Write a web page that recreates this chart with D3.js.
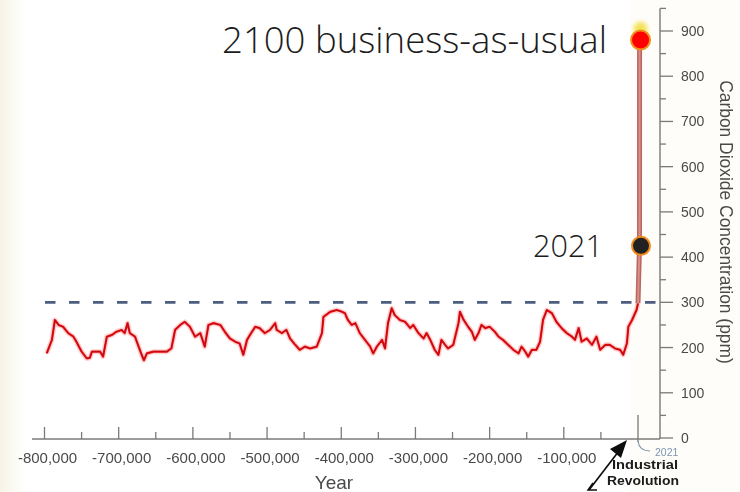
<!DOCTYPE html>
<html>
<head>
<meta charset="utf-8">
<script src="https://cdn.jsdelivr.net/npm/d3@7"></script>
<style>
  html, body { margin: 0; padding: 0; background: #ffffff; }
  svg { display: block; }
</style>
</head>
<body>
<script>
// ---- Data ----
const years = [-797000,-790000,-786000,-781000,-775000,-768000,-761000,-757000,-750000,-743000,
  -739000,-736000,-732000,-725000,-721000,-716000,-709000,-703000,-696000,-692000,
  -688000,-685000,-678000,-674000,-669000,-666000,-662000,-653000,-644000,-635000,
  -629000,-624000,-617000,-611000,-604000,-597000,-590000,-584000,-579000,-572000,
  -563000,-557000,-550000,-543000,-537000,-532000,-527000,-523000,-516000,-510000,
  -503000,-496000,-489000,-487000,-480000,-474000,-469000,-462000,-456000,-449000,
  -442000,-433000,-426000,-424000,-415000,-406000,-399000,-395000,-393000,-391000,
  -386000,-381000,-375000,-368000,-361000,-357000,-352000,-345000,-341000,-337000,
  -332000,-328000,-321000,-314000,-307000,-303000,-296000,-289000,-285000,-280000,
  -274000,-269000,-265000,-260000,-256000,-249000,-242000,-240000,-235000,-229000,
  -224000,-220000,-215000,-211000,-206000,-200000,-193000,-188000,-182000,-175000,
  -168000,-161000,-157000,-152000,-148000,-143000,-137000,-132000,-128000,-123000,
  -116000,-110000,-103000,-96000,-89000,-85000,-80000,-76000,-69000,-62000,
  -56000,-51000,-44000,-38000,-31000,-24000,-20000,-15000,-13000,-8000,
  -4000,-2000,0];
const co2 = [187,217,261,250,246,232,224,213,191,176,
  177,191,191,191,180,224,228,235,239,232,
  254,232,224,206,184,172,187,191,191,191,
  198,239,250,257,246,224,232,202,250,254,
  250,235,220,213,209,184,217,228,246,243,
  232,239,254,239,232,239,220,206,195,202,
  198,202,232,268,279,283,279,276,268,261,
  250,254,232,217,202,187,202,217,198,254,
  287,272,261,257,243,250,232,220,232,217,
  195,184,217,206,198,206,254,279,261,246,
  235,217,232,250,243,246,235,224,217,206,
  195,187,202,191,180,195,195,213,261,283,
  276,257,243,232,224,217,243,213,220,206,
  224,195,206,206,198,195,184,209,246,261,
  276,283,298];

const modernYears = [0, 2021, 2100];
const modernCo2 = [298, 425, 880];

const xTickValues = [-800000,-700000,-600000,-500000,-400000,-300000,-200000,-100000];
const xTickLabels = ["-800,000","-700,000","-600,000","-500,000","-400,000","-300,000","-200,000","-100,000"];
const yTickValues = [0,100,200,300,400,500,600,700,800,900];
const baselinePpm = 300;
const pointLabels = ["2021", "2100 business-as-usual"];

// ---- Layout ----
const W = 740, H = 492;
const svg = d3.select("body").append("svg").attr("width", W).attr("height", H);

const x = d3.scaleLinear().domain([-800000, 0]).range([44.5, 638]);
const y = d3.scaleLinear().domain([0, 900]).range([438, 31]);
const axisY = 439;
const axisX = 660;

// background tints (scanned figure look)
const defs = svg.append("defs");
const lg = defs.append("linearGradient").attr("id","leftTint").attr("x1",0).attr("x2",1);
lg.append("stop").attr("offset","0%").attr("stop-color","#f7f3e6");
lg.append("stop").attr("offset","100%").attr("stop-color","#ffffff");
svg.append("rect").attr("x",0).attr("y",0).attr("width",26).attr("height",H).attr("fill","url(#leftTint)");
svg.append("rect").attr("x",630).attr("y",0).attr("width",110).attr("height",H).attr("fill","#fefdf9");

const blur = defs.append("filter").attr("id","soft").attr("filterUnits","userSpaceOnUse")
  .attr("x",0).attr("y",0).attr("width",W).attr("height",H);
blur.append("feGaussianBlur").attr("stdDeviation",0.6);
const glow = defs.append("filter").attr("id","glow").attr("x","-100%").attr("y","-100%").attr("width","300%").attr("height","300%");
glow.append("feGaussianBlur").attr("stdDeviation",2.2);

const axisColor = "#7a7a7a";
const labelColor = "#4a4a4a";

// ---- X axis ----
const gx = svg.append("g").attr("filter","url(#soft)");
gx.append("line").attr("x1", 32).attr("x2", axisX).attr("y1", axisY).attr("y2", axisY)
  .attr("stroke", axisColor).attr("stroke-width", 1.4);
const minorX = d3.range(-750000, 0, 100000);
gx.selectAll("line.maj").data(xTickValues).join("line").attr("class","maj")
  .attr("x1", d => x(d)).attr("x2", d => x(d)).attr("y1", axisY).attr("y2", axisY - 12)
  .attr("stroke", axisColor).attr("stroke-width", 1.3);
gx.selectAll("line.min").data(minorX).join("line").attr("class","min")
  .attr("x1", d => x(d)).attr("x2", d => x(d)).attr("y1", axisY).attr("y2", axisY - 7)
  .attr("stroke", axisColor).attr("stroke-width", 1.3);
// present-day tick
gx.append("line").attr("x1", x(0)).attr("x2", x(0)).attr("y1", axisY + 3).attr("y2", axisY - 24)
  .attr("stroke", axisColor).attr("stroke-width", 1.3);
gx.selectAll("text.xt").data(xTickValues).join("text").attr("class","xt")
  .attr("x", d => x(d) + 3).attr("y", 463)
  .attr("text-anchor","middle").attr("font-family","'Liberation Sans', Arial, sans-serif")
  .attr("font-size", 15).attr("fill", labelColor)
  .text((d,i) => xTickLabels[i]);
gx.append("text").attr("x", 334).attr("y", 489).attr("text-anchor","middle")
  .attr("font-family","'Liberation Sans', Arial, sans-serif").attr("font-size", 19)
  .attr("fill", labelColor).text("Year");

// ---- Y axis (right side) ----
const gy = svg.append("g").attr("filter","url(#soft)");
gy.append("line").attr("x1", axisX).attr("x2", axisX).attr("y1", axisY).attr("y2", y(950))
  .attr("stroke", axisColor).attr("stroke-width", 1.4);
gy.selectAll("line.ymaj").data(yTickValues).join("line").attr("class","ymaj")
  .attr("x1", axisX).attr("x2", axisX + 13).attr("y1", d => y(d)).attr("y2", d => y(d))
  .attr("stroke", axisColor).attr("stroke-width", 1.3);
gy.selectAll("line.ymin").data(d3.range(50, 1000, 100)).join("line").attr("class","ymin")
  .attr("x1", axisX).attr("x2", axisX + 6).attr("y1", d => y(d)).attr("y2", d => y(d))
  .attr("stroke", axisColor).attr("stroke-width", 1.3);
gy.selectAll("text.yt").data(yTickValues).join("text").attr("class","yt")
  .attr("x", 681).attr("y", d => y(d) + 5)
  .attr("font-family","'Liberation Sans', Arial, sans-serif").attr("font-size", 14)
  .attr("fill", labelColor).text(d => d);
const yTitle = gy.append("text").attr("transform", "translate(720,222) rotate(90)")
  .attr("text-anchor","middle").attr("font-family","'Liberation Sans', Arial, sans-serif")
  .attr("font-size", 15).attr("fill", labelColor)
  .text("Carbon Dioxide Concentration (ppm)");
(function fit(el, w){ const l = el.node().getComputedTextLength(); if (l > 0) el.attr("font-size", 15 * w / l); })(yTitle, 284);

// ---- 300 ppm dashed reference ----
svg.append("line").attr("x1", 45).attr("x2", axisX + 4).attr("y1", y(baselinePpm)).attr("y2", y(baselinePpm))
  .attr("stroke", "#4e5b80").attr("stroke-width", 2.6).attr("stroke-dasharray", "10.5,13.5")
  .attr("filter","url(#soft)");

// ---- CO2 record ----
const pts = years.map((yr, i) => [yr, co2[i]]);
const line = d3.line().x(d => x(d[0])).y(d => y(d[1]));
svg.append("path").datum(pts).attr("d", line).attr("fill","none")
  .attr("stroke","#ff7a7a").attr("stroke-opacity",0.35).attr("stroke-width",5).attr("stroke-linejoin","round");
svg.append("path").datum(pts).attr("d", line).attr("fill","none")
  .attr("stroke","#e8141a").attr("stroke-width",2.2).attr("stroke-linejoin","round");
svg.append("path").datum(pts).attr("d", line).attr("fill","none")
  .attr("stroke","#b3080c").attr("stroke-width",0.8).attr("stroke-linejoin","round");

// ---- Modern rise ----
const mod = modernYears.map((yr, i) => [yr, modernCo2[i]]);
svg.append("path").datum(mod).attr("d", line).attr("fill","none")
  .attr("stroke","#b86662").attr("stroke-width",5);
svg.append("path").datum(mod).attr("d", line).attr("fill","none")
  .attr("stroke","#d88f88").attr("stroke-width",2);

// yellow glow above 2100 point
svg.append("circle").attr("cx", x(2100) + 1).attr("cy", y(905)).attr("r", 7)
  .attr("fill","#f3dc3c").attr("opacity",0.85).attr("filter","url(#glow)");

svg.append("circle").attr("cx", x(2021) + 1.5).attr("cy", y(425)).attr("r", 9)
  .attr("fill","#222222").attr("stroke","#f08a1c").attr("stroke-width",2);
svg.append("circle").attr("cx", x(2100) + 1).attr("cy", y(880)).attr("r", 9.5)
  .attr("fill","#ff0000").attr("stroke","#f0901c").attr("stroke-width",2);

const bigFont = "'Open Sans', 'Noto Sans', sans-serif";
function fitSize(el, base, w) {
  const l = el.node().getComputedTextLength();
  const s = l > 0 ? base * w / l : base;
  el.attr("font-size", s);
  return s;
}
const lbl2100 = svg.append("text").attr("x", 607).attr("y", 52.5).attr("text-anchor","end")
  .attr("font-family", bigFont).attr("font-weight", 300).attr("font-size", 36)
  .attr("fill","#1c1c1c").text(pointLabels[1]);
fitSize(lbl2100, 36, 385);
const lbl2021 = svg.append("text").attr("x", 603).attr("y", 257).attr("text-anchor","end")
  .attr("font-family", bigFont).attr("font-weight", 300).attr("font-size", 36)
  .attr("fill","#1c1c1c").text(pointLabels[0]);
fitSize(lbl2021, 36, 70);

// ---- Industrial Revolution annotation ----
const ga = svg.append("g").attr("filter","url(#soft)");
ga.append("path").attr("d", `M${x(0)},${axisY + 2} Q${x(0) + 1},${451} ${x(0) + 12},${451}`)
  .attr("fill","none").attr("stroke","#7d95b0").attr("stroke-width",1.1);
ga.append("text").attr("x", 655).attr("y", 456).attr("font-family","'Liberation Sans', Arial, sans-serif")
  .attr("font-size", 10.5).attr("fill","#7d95b0").text("2021");
ga.append("line").attr("x1", 589).attr("y1", 490).attr("x2", 622).attr("y2", 447)
  .attr("stroke","#111").attr("stroke-width",1.7);
ga.append("path").attr("d", "M627,440 L610,449 L621,458 Z").attr("fill","#111");
ga.append("path").attr("d","M593,483 L588,490 L597,490").attr("fill","none").attr("stroke","#111").attr("stroke-width",1.5);
ga.append("text").attr("x", 612).attr("y", 469).attr("font-family","'Liberation Sans', Arial, sans-serif")
  .attr("font-weight","bold").attr("font-size", 12).attr("fill","#1a1a1a")
  .attr("textLength", 66).attr("lengthAdjust","spacingAndGlyphs").text("Industrial");
ga.append("text").attr("x", 607).attr("y", 485).attr("font-family","'Liberation Sans', Arial, sans-serif")
  .attr("font-weight","bold").attr("font-size", 12).attr("fill","#1a1a1a")
  .attr("textLength", 72).attr("lengthAdjust","spacingAndGlyphs").text("Revolution");
</script>
</body>
</html>
